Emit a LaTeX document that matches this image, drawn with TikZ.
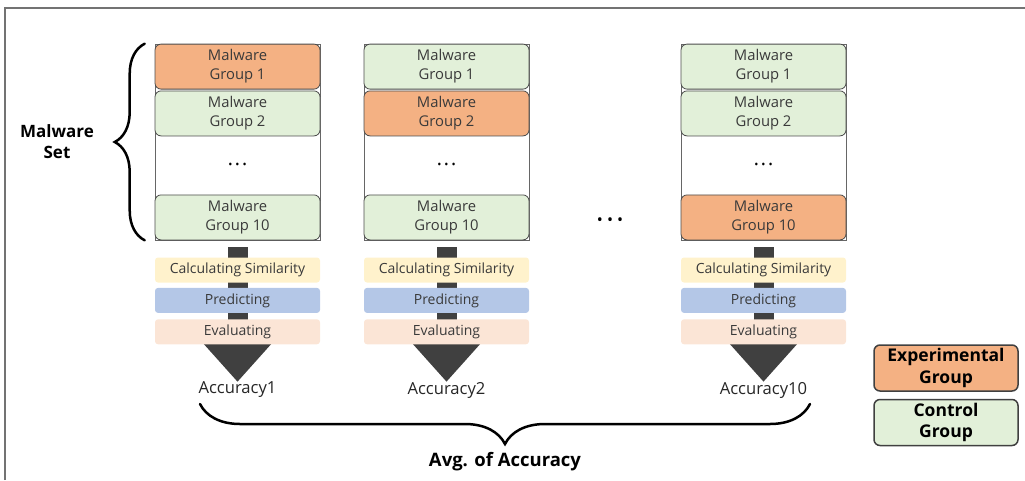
\documentclass[tikz,border=0pt]{standalone}
\usepackage{fontspec}
\setmainfont{Open Sans}
\usepackage{xcolor}
\usepackage{tikz}
\usetikzlibrary{positioning, arrows.meta, calc, decorations.pathreplacing}
\definecolor{expfill}{HTML}{F4B183}
\definecolor{ctrlfill}{HTML}{E2F0D9}
\definecolor{simfill}{HTML}{FFF2CC}
\definecolor{predfill}{HTML}{B4C7E7}
\definecolor{evalfill}{HTML}{FBE5D6}
\definecolor{shaftgray}{HTML}{404040}
\definecolor{textgray}{HTML}{3A3A3A}
\tikzset{
  setframe/.style={
    rectangle,
    draw=black!60,
    line width=0.6pt,
    minimum width=165pt,
    minimum height=196pt,
    inner sep=0pt
  },
  groupbox/.style={
    rectangle,
    draw=black!70,
    line width=0.8pt,
    rounded corners=6pt,
    minimum width=165pt,
    minimum height=45pt,
    align=center,
    font=\fontsize{14.8}{19}\selectfont,
    text=textgray,
    inner sep=0pt
  },
  stepbox/.style={
    rectangle,
    rounded corners=3pt,
    minimum width=165pt,
    minimum height=25pt,
    font=\fontsize{14}{15}\selectfont,
    text=textgray,
    inner sep=0pt
  },
  flowarrow/.style={
    line width=20pt,
    draw=shaftgray,
    -{Triangle[width=67pt, length=39pt]},
    shorten <=7pt
  },
  bracepath/.style={
    decorate,
    line width=2.5pt,
    line cap=round
  },
  acclabel/.style={
    font=\fontsize{16.6}{18}\selectfont,
    text=black!85,
    inner sep=0pt
  },
  boldlabel/.style={
    font=\fontsize{17}{21}\selectfont\bfseries,
    align=center,
    inner sep=0pt
  },
  legendbox/.style={
    rectangle,
    draw=black!75,
    line width=1.5pt,
    rounded corners=6pt,
    minimum width=144pt,
    minimum height=46pt,
    align=center,
    font=\fontsize{17.5}{21.5}\selectfont\bfseries,
    inner sep=0pt
  },
  dotrow/.style={
    font=\fontsize{11}{12}\selectfont,
    inner sep=0pt
  }
}

\begin{document}
\begin{tikzpicture}[x=1pt, y=-1pt]
  \useasboundingbox (0,0) rectangle (1025,480);
  \draw[black!55, line width=1.5pt] (5,480) -- (5,8) -- (1025,8);

  % one column per test fold
  \foreach \c/\cx/\acc/\fa/\fb/\fc in {a/237.5/1/expfill/ctrlfill/ctrlfill,
      b/446.5/2/ctrlfill/expfill/ctrlfill, c/763.5/10/ctrlfill/ctrlfill/expfill} {
    \node[setframe] (set-\c) at (\cx,142) {};
    \node[groupbox, fill=\fa, below=0pt of set-\c.north] (g1-\c) {Malware\\Group 1};
    \node[groupbox, fill=\fb, below=1pt of g1-\c] (g2-\c) {Malware\\Group 2};
    \node[groupbox, fill=\fc, above=0pt of set-\c.south] (g10-\c) {Malware\\Group 10};
    \node[dotrow] (dots-\c) at ($(g2-\c.south)!0.5!(g10-\c.north)$) {•\hspace{3pt}•\hspace{3pt}•};
    \node[acclabel] (acc-\c) at (\cx,390) {Accuracy\acc};
    \draw[flowarrow] (g10-\c.south) -- (acc-\c.north);
    \node[stepbox, fill=simfill, below=17pt of g10-\c] (sim-\c) {Calculating Similarity};
    \node[stepbox, fill=predfill, below=5pt of sim-\c] (pred-\c) {Predicting};
    \node[stepbox, fill=evalfill, below=6pt of pred-\c] (eval-\c) {Evaluating};
  }

  \node[font=\fontsize{16}{18}\selectfont, inner sep=0pt] (gap) at (610,222) {•\hspace{4pt}•\hspace{4pt}•};

  % braces
  \draw[bracepath, decoration={brace, amplitude=30pt}]
    ([xshift=-10pt]set-a.south west) -- ([xshift=-10pt]set-a.north west);
  \node[boldlabel] (setlabel) at (57,142) {Malware\\Set};

  \coordinate (braceL) at (200,404);
  \coordinate (braceR) at (810,404);
  \draw[bracepath, decoration={brace, amplitude=40pt}] (braceR) -- (braceL);
  \node[boldlabel, font=\fontsize{18.5}{20}\selectfont\bfseries] (avg) at (505,462) {Avg. of Accuracy};

  % legend
  \node[legendbox, fill=expfill] (legexp) at (946,368) {Experimental\\Group};
  \node[legendbox, fill=ctrlfill, below=7pt of legexp] (legctrl) {Control\\Group};
\end{tikzpicture}
\end{document}
